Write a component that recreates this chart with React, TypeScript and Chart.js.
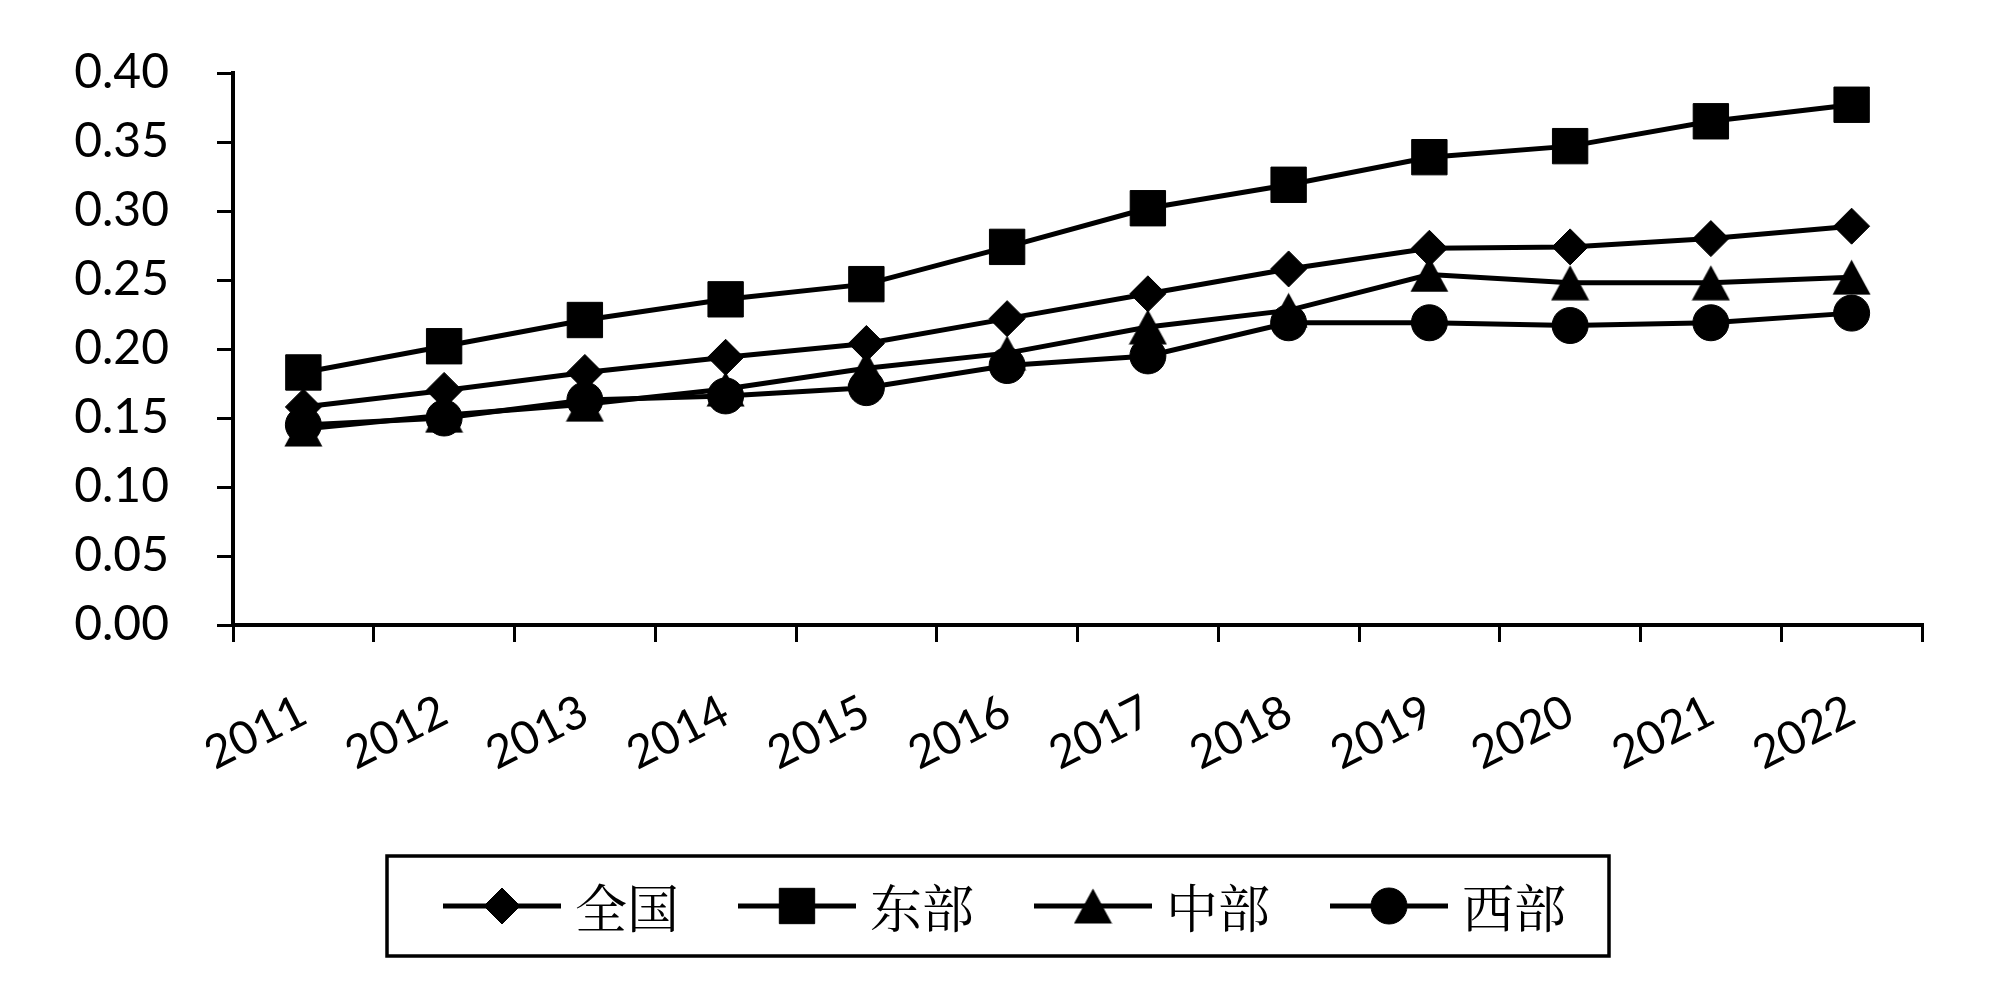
import React, { useEffect, useRef } from "react";
import { Chart, registerables } from "chart.js";
import { drawPoint } from "chart.js/helpers";

Chart.register(...registerables);

const years = ["2011", "2012", "2013", "2014", "2015", "2016", "2017", "2018", "2019", "2020", "2021", "2022"];
const seriesNames = ["全国", "东部", "中部", "西部"];
const national = [0.158, 0.170, 0.183, 0.194, 0.204, 0.222, 0.240, 0.258, 0.273, 0.274, 0.280, 0.289];
const eastern = [0.183, 0.202, 0.221, 0.236, 0.247, 0.274, 0.302, 0.319, 0.339, 0.347, 0.365, 0.377];
const central = [0.142, 0.152, 0.160, 0.171, 0.186, 0.197, 0.216, 0.228, 0.254, 0.248, 0.248, 0.252];
const western = [0.145, 0.150, 0.163, 0.166, 0.172, 0.188, 0.195, 0.219, 0.219, 0.217, 0.219, 0.226];
const yMin = 0;
const yMax = 0.4;
const yStep = 0.05;

function makeTriangle(): HTMLCanvasElement {
  const c = document.createElement("canvas");
  c.width = 39;
  c.height = 36;
  const ctx = c.getContext("2d")!;
  ctx.fillStyle = "#000";
  ctx.beginPath();
  ctx.moveTo(19.5, 0.5);
  ctx.lineTo(38.5, 35.5);
  ctx.lineTo(0.5, 35.5);
  ctx.closePath();
  ctx.fill();
  return c;
}

export default function App() {
  const ref = useRef<HTMLCanvasElement | null>(null);

  useEffect(() => {
    if (!ref.current) return;
    const tri = makeTriangle();
    const styles: any[] = ["rectRot", "rect", tri, "circle"];
    const radii = [18, 25, 18, 18];
    const values = [national, eastern, central, western];

    const legendPlugin = {
      id: "boxLegend",
      afterDraw(chart: any) {
        const ctx = chart.ctx;
        const cx = chart.width / 2;
        const boxL = cx - 613;
        const boxT = 856;
        const boxW = 1222;
        const boxH = 100;
        ctx.save();
        ctx.strokeStyle = "#000";
        ctx.lineWidth = 3.5;
        ctx.strokeRect(boxL, boxT, boxW, boxH);
        const midY = boxT + boxH / 2;
        const starts = [443, 738, 1034, 1330];
        seriesNames.forEach((name, i) => {
          const x0 = boxL + (starts[i] - 387);
          ctx.strokeStyle = "#000";
          ctx.lineWidth = 5;
          ctx.beginPath();
          ctx.moveTo(x0, midY);
          ctx.lineTo(x0 + 118, midY);
          ctx.stroke();
          ctx.fillStyle = "#000";
          ctx.strokeStyle = "#000";
          ctx.lineWidth = 1;
          drawPoint(ctx, { pointStyle: styles[i], radius: radii[i], rotation: 0, borderWidth: 1 } as any, x0 + 59, midY);
          ctx.fillStyle = "#000";
          ctx.font = '52px "Noto Serif CJK SC", "Noto Sans CJK SC"';
          ctx.textBaseline = "middle";
          ctx.textAlign = "left";
          ctx.fillText(name, x0 + 132, midY + 2);
        });
        ctx.restore();
      },
    };

    const chart = new Chart(ref.current, {
      type: "line",
      data: {
        labels: years,
        datasets: seriesNames.map((name, i) => ({
          label: name,
          data: values[i],
          borderColor: "#000",
          backgroundColor: "#000",
          borderWidth: 5,
          pointStyle: styles[i],
          pointRadius: radii[i],
          pointBorderWidth: 1,
          pointBackgroundColor: "#000",
          pointBorderColor: "#000",
          tension: 0,
          fill: false,
          order: 3 - i,
        })),
      },
      options: {
        responsive: false,
        animation: false,
        layout: { padding: { left: 0, top: 73, right: 78, bottom: 192 } },
        plugins: {
          legend: { display: false },
          tooltip: { enabled: false },
          title: { display: false },
        },
        scales: {
          x: {
            type: "category",
            offset: true,
            grid: {
              offset: true,
              display: true,
              drawOnChartArea: false,
              drawTicks: true,
              tickLength: 17,
              color: "#000",
              lineWidth: 3,
            },
            border: { display: true, color: "#000", width: 4 },
            ticks: {
              autoSkip: false,
              maxRotation: 27,
              minRotation: 27,
              padding: 42,
              color: "#000",
              font: { family: "Lato", size: 46 },
            },
            afterFit: (scale: any) => {
              scale.height = 190;
            },
          },
          y: {
            min: yMin,
            max: yMax,
            grid: {
              display: true,
              drawOnChartArea: false,
              drawTicks: true,
              tickLength: 16,
              color: "#000",
              lineWidth: 3,
            },
            border: { display: true, color: "#000", width: 4 },
            ticks: {
              stepSize: yStep,
              padding: 48,
              color: "#000",
              font: { family: "Lato", size: 48 },
              callback: (v: any) => Number(v).toFixed(2),
            },
            afterFit: (scale: any) => {
              scale.width = 233;
              scale.paddingTop = 30;
              scale.paddingBottom = 30;
            },
          },
        },
      },
      plugins: [legendPlugin],
    });
    return () => chart.destroy();
  }, []);

  return (
    <div style={{ position: "fixed", left: 0, top: 0, width: 2000, height: 1007, background: "#fff" }}>
      <canvas ref={ref} width={2000} height={1007} style={{ width: 2000, height: 1007, display: "block" }} />
    </div>
  );
}
